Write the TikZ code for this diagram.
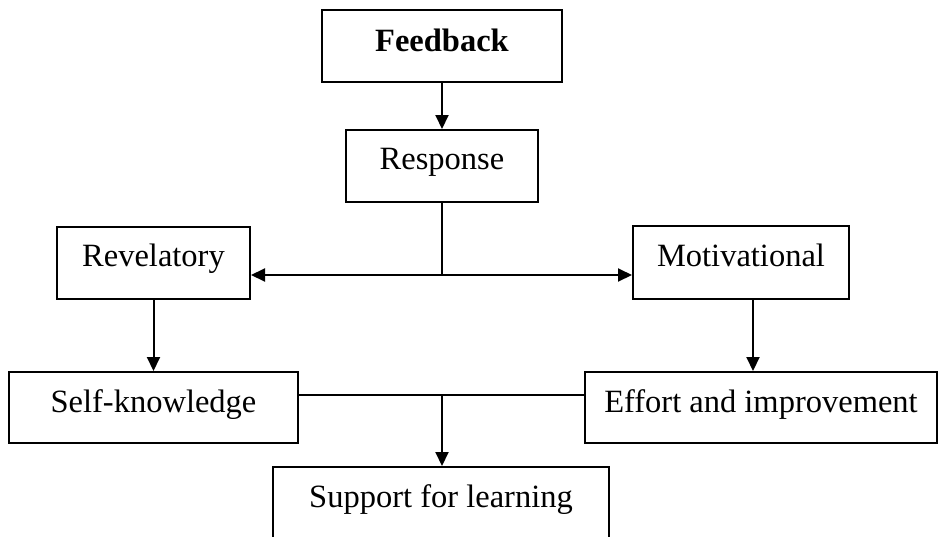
\documentclass[tikz,border=0pt]{standalone}
\usepackage{fontspec}
\setmainfont{Liberation Serif}
\usetikzlibrary{arrows.meta}
\begin{document}
\begin{tikzpicture}[x=1pt,y=-1pt,
  box/.style={draw=black, line width=2pt, rectangle, inner sep=0pt},
  txt/.style={anchor=base, inner sep=0pt, font=\fontsize{32.5}{38}\selectfont},
  link/.style={draw=black, line width=2pt},
  arrow/.style={link, -{Triangle[length=14pt,width=13pt]}}]
\useasboundingbox (0,0) rectangle (940,536);
\clip (0,0) rectangle (940,536);
\fill[white] (0,0) rectangle (940,536);

% boxes
\node[box, minimum width=240pt, minimum height=72pt] (fb)  at (442,46)    {};
\node[box, minimum width=192pt, minimum height=72pt] (rs)  at (442,166)   {};
\node[box, minimum width=193pt, minimum height=72pt] (rev) at (153.5,263) {};
\node[box, minimum width=216pt, minimum height=73pt] (mot) at (741,262.5) {};
\node[box, minimum width=289pt, minimum height=71pt] (sk)  at (153.5,407.5) {};
\node[box, minimum width=352pt, minimum height=71pt] (eff) at (761,407.5) {};
\node[box, minimum width=336pt, minimum height=103pt] (sup) at (441,518.5) {};

% labels, set near the top of each box
\node[txt, font=\fontsize{32.5}{38}\selectfont\bfseries] (fbt) at ([yshift=-42pt]fb.north) {Feedback};
\node[txt] (rst)  at ([yshift=-40pt]rs.north)  {Response};
\node[txt] (revt) at ([yshift=-40pt]rev.north) {Revelatory};
\node[txt] (mott) at ([yshift=-41pt]mot.north) {Motivational};
\node[txt] (skt)  at ([yshift=-41pt]sk.north)  {Self-knowledge};
\node[txt] (efft) at ([yshift=-41pt]eff.north) {Effort and improvement};
\node[txt] (supt) at ([yshift=-41pt]sup.north) {Support for learning};

% branching points
\coordinate (split) at (442,275);
\coordinate (join)  at (442,395);
\coordinate (motout) at ([xshift=12pt]mot.south);

% connectors
\draw[arrow] (fb.south) -- (rs.north);
\draw[link] (rs.south) -- (split);
\draw[arrow] (split) -- (rev.east |- split);
\draw[arrow] (split) -- (mot.west |- split);
\draw[arrow] (rev.south) -- (sk.north);
\draw[arrow] (motout) -- (motout |- eff.north);
\draw[link] (sk.east |- join) -- (eff.west |- join);
\draw[arrow] (join) -- (join |- sup.north);
\end{tikzpicture}
\end{document}
